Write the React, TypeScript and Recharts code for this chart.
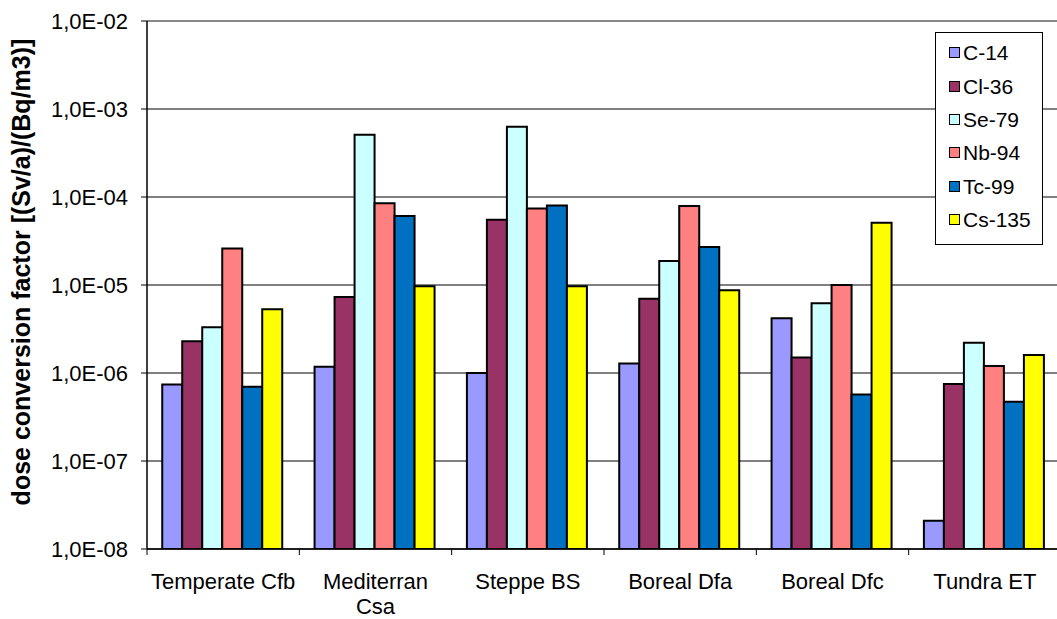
import React from 'react';
import {
  BarChart, Bar, XAxis, YAxis, CartesianGrid, Legend, ReferenceLine,
} from 'recharts';

const categories = ['Temperate Cfb', 'Mediterran Csa', 'Steppe BS', 'Boreal Dfa', 'Boreal Dfc', 'Tundra ET'];

const c14 = [7.4e-7, 1.18e-6, 1.0e-6, 1.28e-6, 4.2e-6, 2.1e-8];
const cl36 = [2.3e-6, 7.3e-6, 5.5e-5, 7.0e-6, 1.5e-6, 7.5e-7];
const se79 = [3.3e-6, 5.1e-4, 6.3e-4, 1.87e-5, 6.2e-6, 2.2e-6];
const nb94 = [2.6e-5, 8.5e-5, 7.4e-5, 7.9e-5, 1.0e-5, 1.2e-6];
const tc99 = [7.0e-7, 6.1e-5, 8.0e-5, 2.7e-5, 5.7e-7, 4.7e-7];
const cs135 = [5.3e-6, 9.7e-6, 9.7e-6, 8.7e-6, 5.1e-5, 1.6e-6];

const yTicks = [1e-8, 1e-7, 1e-6, 1e-5, 1e-4, 1e-3, 1e-2];
const yTickLabels = ['1,0E-08', '1,0E-07', '1,0E-06', '1,0E-05', '1,0E-04', '1,0E-03', '1,0E-02'];

const SERIES = [
  { key: 'c14', name: 'C-14', color: '#9999FF', values: c14 },
  { key: 'cl36', name: 'Cl-36', color: '#993366', values: cl36 },
  { key: 'se79', name: 'Se-79', color: '#CCFFFF', values: se79 },
  { key: 'nb94', name: 'Nb-94', color: '#FF8080', values: nb94 },
  { key: 'tc99', name: 'Tc-99', color: '#0070C0', values: tc99 },
  { key: 'cs135', name: 'Cs-135', color: '#FFFF00', values: cs135 },
];

const data = categories.map((name, i) => {
  const row: Record<string, string | number> = { name };
  SERIES.forEach(s => { row[s.key] = s.values[i]; });
  return row;
});

const FONT = '"Liberation Sans", Arial, sans-serif';
const LABEL_GAP = 24;
const LABEL_MAX_W = 147;

let ctx: CanvasRenderingContext2D | null = null;
function textWidth(s: string) {
  if (!ctx) ctx = document.createElement('canvas').getContext('2d');
  if (!ctx) return s.length * 11;
  ctx.font = '22px "Liberation Sans", Arial, sans-serif';
  return ctx.measureText(s).width;
}

// greedy word wrap, like Excel does for long category names
function wrapLabel(label: string) {
  const words = label.split(' ');
  const lines: string[] = [];
  let cur = '';
  words.forEach(w => {
    const next = cur ? cur + ' ' + w : w;
    if (cur && textWidth(next) > LABEL_MAX_W) {
      lines.push(cur);
      cur = w;
    } else {
      cur = next;
    }
  });
  if (cur) lines.push(cur);
  return lines;
}

// category label plus the small tick marks that Excel puts between the groups
function CategoryTick(props: any) {
  const { x, y, payload, index, width, visibleTicksCount } = props;
  const count = visibleTicksCount || categories.length;
  const bw = (width || 914) / count;
  const axisY = y - LABEL_GAP;
  const lines = wrapLabel(String(payload.value));
  return (
    <g>
      <line x1={x - bw / 2} x2={x - bw / 2} y1={axisY} y2={axisY + 6} stroke="#000" />
      {index === count - 1 && (
        <line x1={x + bw / 2} x2={x + bw / 2} y1={axisY} y2={axisY + 6} stroke="#000" />
      )}
      <text x={x} y={y + 16} textAnchor="middle" fontSize={22} fontFamily={FONT} fill="#000">
        {lines.map((ln, i) => (
          <tspan key={i} x={x} dy={i === 0 ? 0 : 25}>{ln}</tspan>
        ))}
      </text>
    </g>
  );
}

function YLabel(props: any) {
  const vb = props.viewBox || { x: 0, y: 0, width: 0, height: 0 };
  const cx = vb.x + 21;
  const cy = vb.y + vb.height / 2 - 13;
  return (
    <text
      x={cx}
      y={cy}
      transform={`rotate(-90, ${cx}, ${cy})`}
      textAnchor="middle"
      dominantBaseline="central"
      fontSize={25}
      fontWeight="bold"
      fontFamily={FONT}
      fill="#000"
    >
      dose conversion factor [(Sv/a)/(Bq/m3)]
    </text>
  );
}

function LegendBox() {
  return (
    <div style={{
      border: '1px solid #000', background: '#fff', width: 108, height: 213,
      boxSizing: 'border-box', paddingTop: 3, fontFamily: FONT,
    }}>
      {SERIES.map(s => (
        <div key={s.key} style={{ display: 'flex', alignItems: 'center', height: 33.4, paddingLeft: 13 }}>
          <span style={{
            display: 'inline-block', width: 9, height: 9, background: s.color,
            border: '1px solid #000', marginRight: 3,
          }} />
          <span style={{ fontSize: 21, color: '#000', lineHeight: '21px' }}>{s.name}</span>
        </div>
      ))}
    </div>
  );
}

export default function App() {
  return (
    <div style={{
      position: 'fixed', left: 0, top: 0, width: 1057, height: 619,
      overflow: 'hidden', background: '#fff',
    }}>
      <BarChart
        width={1070}
        height={619}
        data={data}
        margin={{ top: 21, right: 9, left: 0, bottom: 10 }}
        barCategoryGap="10%"
        barGap={0}
      >
        <CartesianGrid vertical={false} stroke="#000" strokeWidth={1} />
        <XAxis
          dataKey="name"
          height={60}
          interval={0}
          axisLine={{ stroke: '#000', strokeWidth: 1.5 }}
          tickLine={false}
          tickSize={0}
          tickMargin={LABEL_GAP}
          tick={<CategoryTick />}
        />
        <YAxis
          type="number"
          scale="log"
          domain={[1e-8, 1e-2]}
          ticks={yTicks}
          allowDataOverflow
          width={147}
          axisLine={{ stroke: '#000', strokeWidth: 1.5 }}
          tickLine={{ stroke: '#000' }}
          tickSize={6}
          tickMargin={13}
          tick={{ fontSize: 22, fontFamily: FONT, fill: '#000' }}
          tickFormatter={(v: number) => yTickLabels[yTicks.indexOf(v)] ?? String(v)}
          label={<YLabel />}
        />
        <ReferenceLine y={1e-2} stroke="#888" strokeWidth={2} />
        {SERIES.map(s => (
          <Bar
            key={s.key}
            dataKey={s.key}
            name={s.name}
            fill={s.color}
            stroke="#000"
            strokeWidth={2}
            isAnimationActive={false}
          />
        ))}
        <Legend
          layout="horizontal"
          verticalAlign="middle"
          align="center"
          wrapperStyle={{ left: 935, top: 32, width: 110, height: 214 }}
          content={<LegendBox />}
        />
      </BarChart>
    </div>
  );
}
